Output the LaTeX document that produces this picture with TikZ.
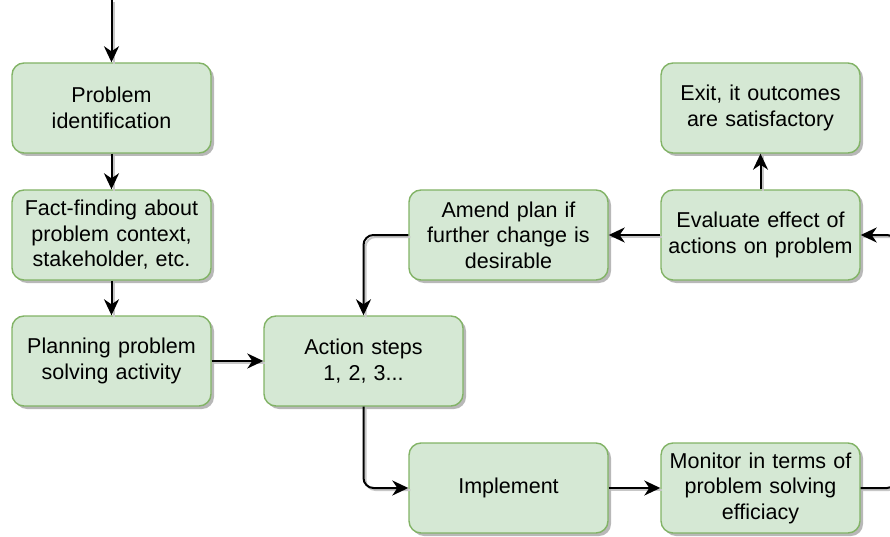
\documentclass[tikz,border=0pt]{standalone}
\usepackage{fontspec}
\setmainfont{Liberation Sans}
\usepackage{tikz}
\usetikzlibrary{arrows.meta,shadows}

\definecolor{boxfill}{HTML}{D5E8D4}
\definecolor{boxline}{HTML}{82B366}

\begin{document}
\begin{tikzpicture}[x=1pt,y=-1pt,
  box/.style={rectangle,rounded corners=12pt,draw=boxline,fill=boxfill,line width=1.4pt,
    minimum width=199pt,minimum height=90pt,inner sep=0pt,text width=192pt,align=center,
    font=\fontsize{21.5}{25.5}\selectfont,
    drop shadow={shadow xshift=3pt,shadow yshift=-3pt,fill=black!28,opacity=1}},
  arr/.style={-{Stealth[length=16pt,width=15pt,inset=5pt]},line width=2pt,rounded corners=10pt,
    preaction={draw=black!22,line width=2pt,-,transform canvas={shift={(2pt,-2pt)}}}}]
\useasboundingbox (0,0) rectangle (890,537);
\node[box] (ident) at (111.5,108) {Problem\\identification};
\node[box] (fact) at (111.5,235) {Fact-finding about\\problem context,\\stakeholder, etc.};
\node[box] (plan) at (111.5,361) {Planning problem\\solving activity};
\node[box] (action) at (363.5,361) {Action steps\\1, 2, 3...};
\node[box] (impl) at (508.5,488) {Implement};
\node[box] (monitor) at (760.5,488) {Monitor in terms of\\problem solving\\efficiacy};
\node[box] (eval) at (760.5,235) {Evaluate effect of\\actions on problem};
\node[box] (amend) at (508.5,235) {Amend plan if\\further change is\\desirable};
\node[box] (exit) at (760.5,108) {Exit, it outcomes\\are satisfactory};
\coordinate (start) at (111.5,0);
\coordinate (loop) at (897,361);
\draw[arr] (start) -- (ident);
\draw[arr] (ident) -- (fact);
\draw[arr] (fact) -- (plan);
\draw[arr] (plan) -- (action);
\draw[arr] (action.south) |- (impl.west);
\draw[arr] (impl) -- (monitor);
\draw[arr] (monitor.east) -| (loop) |- (eval.east);
\draw[arr] (eval) -- (exit);
\draw[arr] (eval) -- (amend);
\draw[arr] (amend.west) -| (action.north);
\end{tikzpicture}
\end{document}
